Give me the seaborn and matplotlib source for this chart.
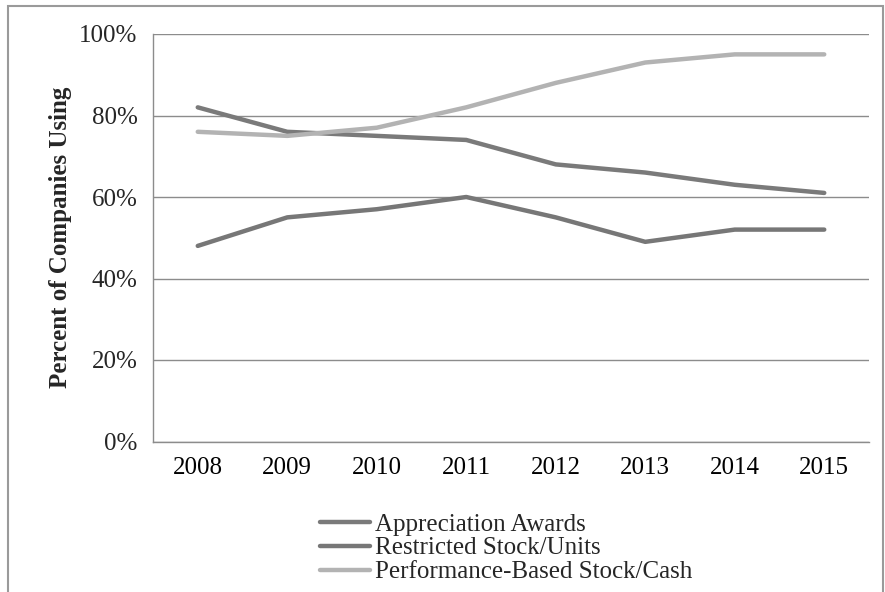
import numpy as np
import pandas as pd
import matplotlib.pyplot as plt
import matplotlib.patches as mpatches
from matplotlib.ticker import FixedLocator, PercentFormatter
import seaborn as sns

years = ["2008", "2009", "2010", "2011", "2012", "2013", "2014", "2015"]
appreciation = [82, 76, 75, 74, 68, 66, 63, 61]
restricted = [48, 55, 57, 60, 55, 49, 52, 52]
performance = [76, 75, 77, 82, 88, 93, 95, 95]

series_names = ["Appreciation Awards", "Restricted Stock/Units", "Performance-Based Stock/Cash"]
colors = ["#7a7a7a", "#777777", "#b3b3b3"]


def main():
    sns.set_style("white")
    plt.rcParams["font.family"] = ["Liberation Serif", "DejaVu Serif"]

    df = pd.DataFrame({
        "pos": list(range(len(years))) * 3,
        "value": appreciation + restricted + performance,
        "series": [series_names[0]] * 8 + [series_names[1]] * 8 + [series_names[2]] * 8,
    })

    fig = plt.figure(figsize=(8.85, 5.92), dpi=100)
    ax = fig.add_axes([153 / 885, 1 - 441.5 / 592, (869 - 153) / 885, (441.5 - 34) / 592])

    sns.lineplot(data=df, x="pos", y="value", hue="series", hue_order=series_names,
                 palette=colors, linewidth=3.2, ax=ax, legend=False, sort=False)

    ax.set_xlim(-0.5, len(years) - 0.5)
    ax.set_ylim(0, 100)
    ax.set_xticks(range(len(years)))
    ax.set_xticklabels(years)
    ax.xaxis.set_minor_locator(FixedLocator(np.arange(-0.5, len(years), 1.0)))
    ax.tick_params(axis="x", which="major", length=0, pad=11, labelsize=18, colors="black")
    ax.tick_params(axis="x", which="minor", length=6, width=1, color="#8c8c8c", direction="out")
    ax.set_yticks(range(0, 101, 20))
    ax.yaxis.set_major_formatter(PercentFormatter(decimals=0))
    ax.tick_params(axis="y", length=6, width=1, color="#8c8c8c", direction="out", pad=5, labelsize=18)
    ax.yaxis.grid(True, color="#8c8c8c", linewidth=1.0)
    ax.set_axisbelow(True)
    ax.set_xlabel("")
    ax.set_ylabel("Percent of Companies Using", fontsize=18, fontweight="bold", labelpad=5)

    sns.despine(ax=ax, top=True, right=True)
    for side in ["left", "bottom"]:
        ax.spines[side].set_color("#8c8c8c")
        ax.spines[side].set_linewidth(1.0)

    handles = [plt.Line2D([], [], color=c, linewidth=3.2) for c in colors]
    fig.legend(handles, series_names, loc="upper left", bbox_to_anchor=(320 / 885, 1 - 513 / 592),
               frameon=False, fontsize=18, handlelength=2.0, handletextpad=0.2,
               labelspacing=0.06, borderaxespad=0, borderpad=0)

    border = mpatches.Rectangle((8 / 885, -0.05), (883 - 8) / 885, 1.05 - 6 / 592,
                                transform=fig.transFigure, fill=False,
                                edgecolor="#9a9a9a", linewidth=1.5)
    fig.patches.append(border)

    fig.savefig("out.png", dpi=100)


if __name__ == "__main__":
    main()
